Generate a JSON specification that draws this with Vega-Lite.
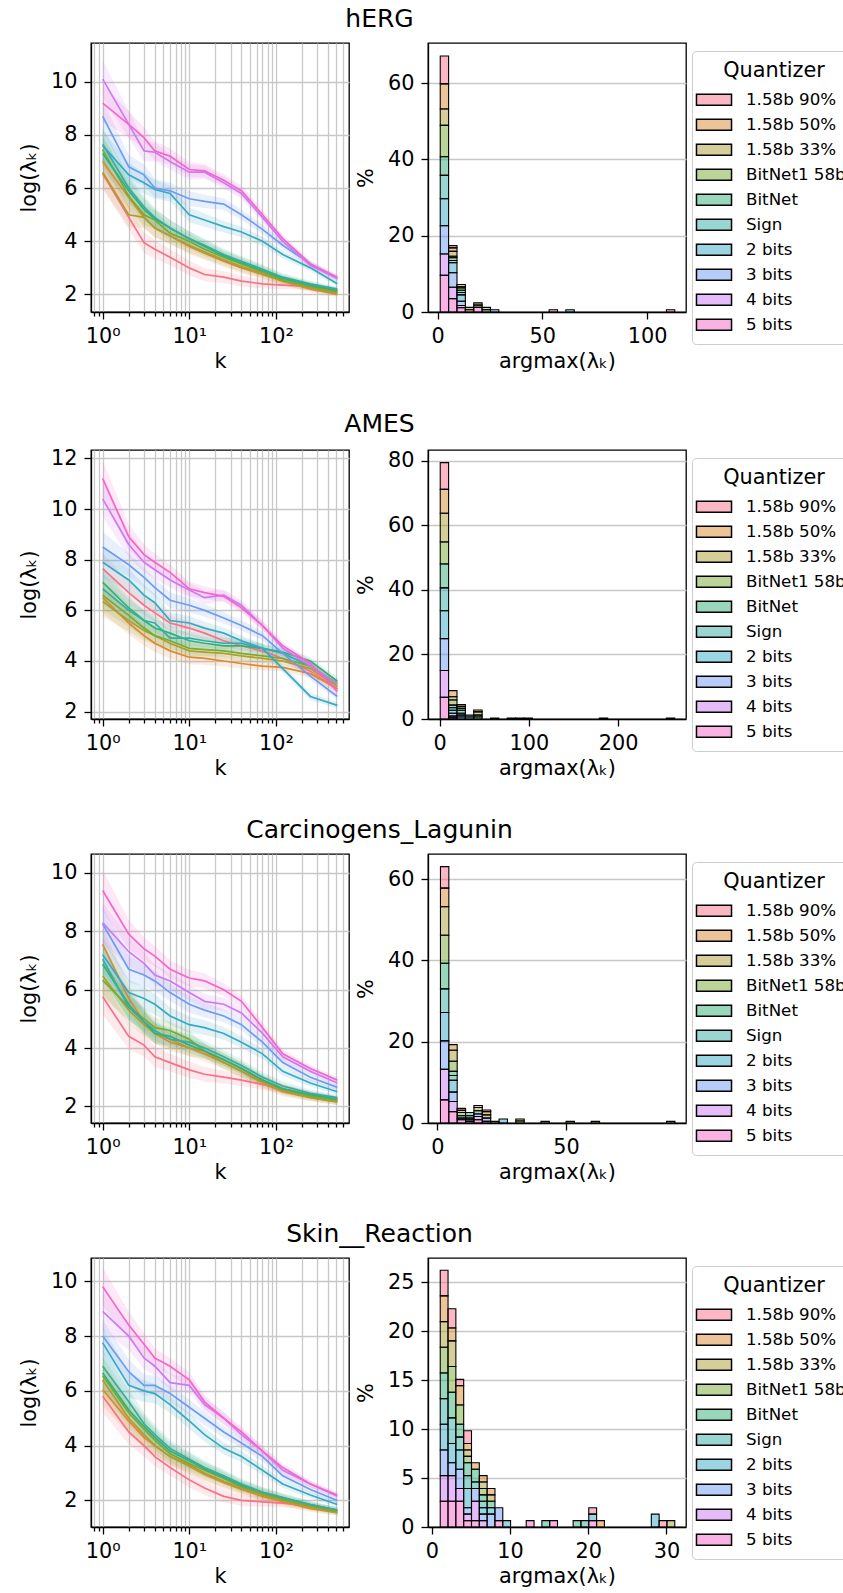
{
"$schema": "https://vega.github.io/schema/vega-lite/v6.json",
"background": "white",
"padding": {"left": 17, "top": 7, "right": 0, "bottom": 0},
"config": {
  "font": "DejaVu Sans",
  "view": {"stroke": "black", "strokeWidth": 1.3},
  "range": {"category": ["#f77189","#dc8932","#ae9d31","#77ab31","#33b07a","#36ada4","#38a9c5","#6e9bf4","#cc7af4","#f565cc"]},
  "axis": {"labelFont": "DejaVu Sans", "labelFontSize": 20.8, "labelColor": "black", "titleFont": "DejaVu Sans", "titleFontSize": 20.8, "titleFontWeight": "normal", "titleColor": "black", "tickColor": "black", "tickSize": 7, "tickWidth": 1.3, "domainColor": "black", "domainWidth": 1.3, "gridColor": "#c8c8c8", "gridWidth": 1.3, "labelPadding": 7},
  "axisX": {"titlePadding": 6},
  "axisY": {"titlePadding": 11},
  "title": {"font": "DejaVu Sans", "fontSize": 25, "fontWeight": "normal", "color": "black", "anchor": "middle", "offset": 10, "dx": -58},
  "legend": {"titleFont": "DejaVu Sans", "titleFontSize": 20.8, "titleFontWeight": "normal", "titleColor": "black", "labelFont": "DejaVu Sans", "labelFontSize": 16.7, "labelColor": "black", "symbolType": "M-1.6,-0.5H1.6V0.5H-1.6Z", "symbolSize": 480, "symbolStrokeColor": "black", "symbolStrokeWidth": 1.5, "rowPadding": 4, "labelOffset": 20, "padding": 10, "strokeColor": "#cccccc", "fillColor": "white", "cornerRadius": 4, "titleAnchor": "middle", "titlePadding": 6}
},
"datasets": {
"qorder": [{"q":"1.58b 90%","o":0},{"q":"1.58b 50%","o":1},{"q":"1.58b 33%","o":2},{"q":"BitNet1 58b","o":3},{"q":"BitNet","o":4},{"q":"Sign","o":5},{"q":"2 bits","o":6},{"q":"3 bits","o":7},{"q":"4 bits","o":8},{"q":"5 bits","o":9}],
"l_hERG": [
{"q":"1.58b 90%","k":1,"v":6.55,"e":0.6},{"q":"1.58b 90%","k":2,"v":4.9,"e":0.45},{"q":"1.58b 90%","k":3,"v":3.95,"e":0.4},{"q":"1.58b 90%","k":4,"v":3.7,"e":0.35},{"q":"1.58b 90%","k":6,"v":3.4,"e":0.3},{"q":"1.58b 90%","k":10,"v":3.0,"e":0.28},{"q":"1.58b 90%","k":15,"v":2.75,"e":0.25},{"q":"1.58b 90%","k":25,"v":2.65,"e":0.22},{"q":"1.58b 90%","k":40,"v":2.5,"e":0.2},{"q":"1.58b 90%","k":70,"v":2.4,"e":0.18},{"q":"1.58b 90%","k":120,"v":2.35,"e":0.15},{"q":"1.58b 90%","k":250,"v":2.3,"e":0.12},{"q":"1.58b 90%","k":512,"v":2.15,"e":0.1},
{"q":"1.58b 50%","k":1,"v":7.0,"e":0.6},{"q":"1.58b 50%","k":2,"v":5.65,"e":0.45},{"q":"1.58b 50%","k":3,"v":4.9,"e":0.4},{"q":"1.58b 50%","k":4,"v":4.5,"e":0.35},{"q":"1.58b 50%","k":6,"v":4.2,"e":0.3},{"q":"1.58b 50%","k":10,"v":3.8,"e":0.28},{"q":"1.58b 50%","k":15,"v":3.55,"e":0.25},{"q":"1.58b 50%","k":25,"v":3.25,"e":0.22},{"q":"1.58b 50%","k":40,"v":3.0,"e":0.2},{"q":"1.58b 50%","k":70,"v":2.75,"e":0.18},{"q":"1.58b 50%","k":120,"v":2.5,"e":0.15},{"q":"1.58b 50%","k":250,"v":2.2,"e":0.12},{"q":"1.58b 50%","k":512,"v":2.0,"e":0.1},
{"q":"1.58b 33%","k":1,"v":6.6,"e":0.6},{"q":"1.58b 33%","k":2,"v":5.0,"e":0.45},{"q":"1.58b 33%","k":3,"v":4.9,"e":0.4},{"q":"1.58b 33%","k":4,"v":4.5,"e":0.35},{"q":"1.58b 33%","k":6,"v":4.2,"e":0.3},{"q":"1.58b 33%","k":10,"v":3.85,"e":0.28},{"q":"1.58b 33%","k":15,"v":3.6,"e":0.25},{"q":"1.58b 33%","k":25,"v":3.3,"e":0.22},{"q":"1.58b 33%","k":40,"v":3.05,"e":0.2},{"q":"1.58b 33%","k":70,"v":2.8,"e":0.18},{"q":"1.58b 33%","k":120,"v":2.5,"e":0.15},{"q":"1.58b 33%","k":250,"v":2.25,"e":0.12},{"q":"1.58b 33%","k":512,"v":2.05,"e":0.1},
{"q":"BitNet1 58b","k":1,"v":7.45,"e":0.6},{"q":"BitNet1 58b","k":2,"v":5.7,"e":0.45},{"q":"BitNet1 58b","k":3,"v":5.0,"e":0.4},{"q":"BitNet1 58b","k":4,"v":4.8,"e":0.35},{"q":"BitNet1 58b","k":6,"v":4.3,"e":0.3},{"q":"BitNet1 58b","k":10,"v":4.0,"e":0.28},{"q":"BitNet1 58b","k":15,"v":3.7,"e":0.25},{"q":"BitNet1 58b","k":25,"v":3.4,"e":0.22},{"q":"BitNet1 58b","k":40,"v":3.15,"e":0.2},{"q":"BitNet1 58b","k":70,"v":2.85,"e":0.18},{"q":"BitNet1 58b","k":120,"v":2.55,"e":0.15},{"q":"BitNet1 58b","k":250,"v":2.3,"e":0.12},{"q":"BitNet1 58b","k":512,"v":2.1,"e":0.1},
{"q":"BitNet","k":1,"v":7.3,"e":0.6},{"q":"BitNet","k":2,"v":5.9,"e":0.45},{"q":"BitNet","k":3,"v":5.2,"e":0.4},{"q":"BitNet","k":4,"v":4.85,"e":0.35},{"q":"BitNet","k":6,"v":4.5,"e":0.3},{"q":"BitNet","k":10,"v":4.1,"e":0.28},{"q":"BitNet","k":15,"v":3.8,"e":0.25},{"q":"BitNet","k":25,"v":3.45,"e":0.22},{"q":"BitNet","k":40,"v":3.2,"e":0.2},{"q":"BitNet","k":70,"v":2.9,"e":0.18},{"q":"BitNet","k":120,"v":2.6,"e":0.15},{"q":"BitNet","k":250,"v":2.35,"e":0.12},{"q":"BitNet","k":512,"v":2.15,"e":0.1},
{"q":"Sign","k":1,"v":7.65,"e":0.6},{"q":"Sign","k":2,"v":6.0,"e":0.45},{"q":"Sign","k":3,"v":5.3,"e":0.4},{"q":"Sign","k":4,"v":4.9,"e":0.35},{"q":"Sign","k":6,"v":4.5,"e":0.3},{"q":"Sign","k":10,"v":4.1,"e":0.28},{"q":"Sign","k":15,"v":3.85,"e":0.25},{"q":"Sign","k":25,"v":3.5,"e":0.22},{"q":"Sign","k":40,"v":3.25,"e":0.2},{"q":"Sign","k":70,"v":2.95,"e":0.18},{"q":"Sign","k":120,"v":2.65,"e":0.15},{"q":"Sign","k":250,"v":2.4,"e":0.12},{"q":"Sign","k":512,"v":2.2,"e":0.1},
{"q":"2 bits","k":1,"v":7.6,"e":0.6},{"q":"2 bits","k":2,"v":6.5,"e":0.45},{"q":"2 bits","k":3,"v":6.2,"e":0.4},{"q":"2 bits","k":4,"v":5.95,"e":0.35},{"q":"2 bits","k":6,"v":5.8,"e":0.3},{"q":"2 bits","k":10,"v":5.0,"e":0.28},{"q":"2 bits","k":15,"v":4.8,"e":0.25},{"q":"2 bits","k":25,"v":4.55,"e":0.22},{"q":"2 bits","k":40,"v":4.35,"e":0.2},{"q":"2 bits","k":70,"v":4.0,"e":0.18},{"q":"2 bits","k":120,"v":3.5,"e":0.15},{"q":"2 bits","k":250,"v":3.0,"e":0.12},{"q":"2 bits","k":512,"v":2.4,"e":0.1},
{"q":"3 bits","k":1,"v":8.7,"e":0.6},{"q":"3 bits","k":2,"v":6.8,"e":0.45},{"q":"3 bits","k":3,"v":6.5,"e":0.4},{"q":"3 bits","k":4,"v":6.0,"e":0.35},{"q":"3 bits","k":6,"v":5.9,"e":0.3},{"q":"3 bits","k":10,"v":5.6,"e":0.28},{"q":"3 bits","k":15,"v":5.5,"e":0.25},{"q":"3 bits","k":25,"v":5.4,"e":0.22},{"q":"3 bits","k":40,"v":5.0,"e":0.2},{"q":"3 bits","k":70,"v":4.45,"e":0.18},{"q":"3 bits","k":120,"v":3.85,"e":0.15},{"q":"3 bits","k":250,"v":3.15,"e":0.12},{"q":"3 bits","k":512,"v":2.6,"e":0.1},
{"q":"4 bits","k":1,"v":10.1,"e":0.7},{"q":"4 bits","k":2,"v":8.4,"e":0.5},{"q":"4 bits","k":3,"v":7.4,"e":0.4},{"q":"4 bits","k":4,"v":7.35,"e":0.35},{"q":"4 bits","k":6,"v":7.0,"e":0.3},{"q":"4 bits","k":10,"v":6.6,"e":0.28},{"q":"4 bits","k":15,"v":6.6,"e":0.25},{"q":"4 bits","k":25,"v":6.2,"e":0.22},{"q":"4 bits","k":40,"v":5.8,"e":0.2},{"q":"4 bits","k":70,"v":4.9,"e":0.18},{"q":"4 bits","k":120,"v":4.0,"e":0.15},{"q":"4 bits","k":250,"v":3.1,"e":0.12},{"q":"4 bits","k":512,"v":2.6,"e":0.1},
{"q":"5 bits","k":1,"v":9.2,"e":0.7},{"q":"5 bits","k":2,"v":8.4,"e":0.5},{"q":"5 bits","k":3,"v":7.9,"e":0.4},{"q":"5 bits","k":4,"v":7.4,"e":0.35},{"q":"5 bits","k":6,"v":7.2,"e":0.3},{"q":"5 bits","k":10,"v":6.7,"e":0.28},{"q":"5 bits","k":15,"v":6.65,"e":0.25},{"q":"5 bits","k":25,"v":6.3,"e":0.22},{"q":"5 bits","k":40,"v":5.9,"e":0.2},{"q":"5 bits","k":70,"v":5.0,"e":0.18},{"q":"5 bits","k":120,"v":4.1,"e":0.15},{"q":"5 bits","k":250,"v":3.15,"e":0.12},{"q":"5 bits","k":512,"v":2.65,"e":0.1}
],
"l_AMES": [
{"q":"1.58b 90%","k":1,"v":7.65,"e":0.6},{"q":"1.58b 90%","k":2,"v":6.7,"e":0.45},{"q":"1.58b 90%","k":3,"v":6.2,"e":0.4},{"q":"1.58b 90%","k":4,"v":5.9,"e":0.35},{"q":"1.58b 90%","k":6,"v":5.5,"e":0.3},{"q":"1.58b 90%","k":10,"v":5.3,"e":0.28},{"q":"1.58b 90%","k":15,"v":5.1,"e":0.25},{"q":"1.58b 90%","k":25,"v":4.8,"e":0.22},{"q":"1.58b 90%","k":40,"v":4.6,"e":0.2},{"q":"1.58b 90%","k":70,"v":4.4,"e":0.18},{"q":"1.58b 90%","k":120,"v":4.1,"e":0.15},{"q":"1.58b 90%","k":250,"v":3.6,"e":0.15},{"q":"1.58b 90%","k":512,"v":2.9,"e":0.15},
{"q":"1.58b 50%","k":1,"v":6.5,"e":0.6},{"q":"1.58b 50%","k":2,"v":5.5,"e":0.45},{"q":"1.58b 50%","k":3,"v":5.0,"e":0.4},{"q":"1.58b 50%","k":4,"v":4.7,"e":0.35},{"q":"1.58b 50%","k":6,"v":4.4,"e":0.3},{"q":"1.58b 50%","k":10,"v":4.15,"e":0.28},{"q":"1.58b 50%","k":15,"v":4.1,"e":0.25},{"q":"1.58b 50%","k":25,"v":4.0,"e":0.22},{"q":"1.58b 50%","k":40,"v":3.9,"e":0.2},{"q":"1.58b 50%","k":70,"v":3.8,"e":0.18},{"q":"1.58b 50%","k":120,"v":3.75,"e":0.15},{"q":"1.58b 50%","k":250,"v":3.5,"e":0.15},{"q":"1.58b 50%","k":512,"v":2.9,"e":0.15},
{"q":"1.58b 33%","k":1,"v":6.35,"e":0.6},{"q":"1.58b 33%","k":2,"v":5.6,"e":0.45},{"q":"1.58b 33%","k":3,"v":5.2,"e":0.4},{"q":"1.58b 33%","k":4,"v":5.0,"e":0.35},{"q":"1.58b 33%","k":6,"v":4.7,"e":0.3},{"q":"1.58b 33%","k":10,"v":4.4,"e":0.28},{"q":"1.58b 33%","k":15,"v":4.35,"e":0.25},{"q":"1.58b 33%","k":25,"v":4.3,"e":0.22},{"q":"1.58b 33%","k":40,"v":4.2,"e":0.2},{"q":"1.58b 33%","k":70,"v":4.1,"e":0.18},{"q":"1.58b 33%","k":120,"v":4.0,"e":0.15},{"q":"1.58b 33%","k":250,"v":3.7,"e":0.15},{"q":"1.58b 33%","k":512,"v":3.0,"e":0.15},
{"q":"BitNet1 58b","k":1,"v":6.6,"e":0.6},{"q":"BitNet1 58b","k":2,"v":5.8,"e":0.45},{"q":"BitNet1 58b","k":3,"v":5.3,"e":0.4},{"q":"BitNet1 58b","k":4,"v":5.0,"e":0.35},{"q":"BitNet1 58b","k":6,"v":4.8,"e":0.3},{"q":"BitNet1 58b","k":10,"v":4.5,"e":0.28},{"q":"BitNet1 58b","k":15,"v":4.45,"e":0.25},{"q":"BitNet1 58b","k":25,"v":4.4,"e":0.22},{"q":"BitNet1 58b","k":40,"v":4.3,"e":0.2},{"q":"BitNet1 58b","k":70,"v":4.2,"e":0.18},{"q":"BitNet1 58b","k":120,"v":4.1,"e":0.15},{"q":"BitNet1 58b","k":250,"v":3.8,"e":0.15},{"q":"BitNet1 58b","k":512,"v":3.1,"e":0.15},
{"q":"BitNet","k":1,"v":7.1,"e":0.6},{"q":"BitNet","k":2,"v":6.1,"e":0.45},{"q":"BitNet","k":3,"v":5.6,"e":0.4},{"q":"BitNet","k":4,"v":5.3,"e":0.35},{"q":"BitNet","k":6,"v":5.1,"e":0.3},{"q":"BitNet","k":10,"v":4.8,"e":0.28},{"q":"BitNet","k":15,"v":4.7,"e":0.25},{"q":"BitNet","k":25,"v":4.6,"e":0.22},{"q":"BitNet","k":40,"v":4.6,"e":0.2},{"q":"BitNet","k":70,"v":4.5,"e":0.18},{"q":"BitNet","k":120,"v":4.35,"e":0.15},{"q":"BitNet","k":250,"v":4.0,"e":0.15},{"q":"BitNet","k":512,"v":3.2,"e":0.15},
{"q":"Sign","k":1,"v":6.85,"e":0.6},{"q":"Sign","k":2,"v":6.0,"e":0.45},{"q":"Sign","k":3,"v":5.6,"e":0.4},{"q":"Sign","k":4,"v":5.5,"e":0.35},{"q":"Sign","k":6,"v":4.9,"e":0.3},{"q":"Sign","k":10,"v":4.9,"e":0.28},{"q":"Sign","k":15,"v":4.8,"e":0.25},{"q":"Sign","k":25,"v":4.7,"e":0.22},{"q":"Sign","k":40,"v":4.7,"e":0.2},{"q":"Sign","k":70,"v":4.5,"e":0.18},{"q":"Sign","k":120,"v":4.3,"e":0.15},{"q":"Sign","k":250,"v":3.8,"e":0.15},{"q":"Sign","k":512,"v":3.1,"e":0.15},
{"q":"2 bits","k":1,"v":7.9,"e":0.6},{"q":"2 bits","k":2,"v":7.2,"e":0.45},{"q":"2 bits","k":3,"v":6.6,"e":0.4},{"q":"2 bits","k":4,"v":6.3,"e":0.35},{"q":"2 bits","k":6,"v":5.6,"e":0.3},{"q":"2 bits","k":10,"v":5.5,"e":0.28},{"q":"2 bits","k":15,"v":5.3,"e":0.25},{"q":"2 bits","k":25,"v":5.1,"e":0.22},{"q":"2 bits","k":40,"v":4.8,"e":0.2},{"q":"2 bits","k":70,"v":4.5,"e":0.18},{"q":"2 bits","k":120,"v":3.7,"e":0.15},{"q":"2 bits","k":250,"v":2.6,"e":0.15},{"q":"2 bits","k":512,"v":2.25,"e":0.12},
{"q":"3 bits","k":1,"v":8.5,"e":0.6},{"q":"3 bits","k":2,"v":7.8,"e":0.45},{"q":"3 bits","k":3,"v":7.3,"e":0.4},{"q":"3 bits","k":4,"v":6.9,"e":0.35},{"q":"3 bits","k":6,"v":6.4,"e":0.3},{"q":"3 bits","k":10,"v":6.2,"e":0.28},{"q":"3 bits","k":15,"v":6.0,"e":0.25},{"q":"3 bits","k":25,"v":5.7,"e":0.22},{"q":"3 bits","k":40,"v":5.4,"e":0.2},{"q":"3 bits","k":70,"v":5.0,"e":0.18},{"q":"3 bits","k":120,"v":4.3,"e":0.15},{"q":"3 bits","k":250,"v":3.4,"e":0.15},{"q":"3 bits","k":512,"v":2.6,"e":0.12},
{"q":"4 bits","k":1,"v":10.4,"e":0.7},{"q":"4 bits","k":2,"v":8.6,"e":0.5},{"q":"4 bits","k":3,"v":7.9,"e":0.4},{"q":"4 bits","k":4,"v":7.6,"e":0.35},{"q":"4 bits","k":6,"v":7.2,"e":0.3},{"q":"4 bits","k":10,"v":6.8,"e":0.28},{"q":"4 bits","k":15,"v":6.5,"e":0.25},{"q":"4 bits","k":25,"v":6.6,"e":0.22},{"q":"4 bits","k":40,"v":6.2,"e":0.2},{"q":"4 bits","k":70,"v":5.4,"e":0.18},{"q":"4 bits","k":120,"v":4.5,"e":0.15},{"q":"4 bits","k":250,"v":3.8,"e":0.15},{"q":"4 bits","k":512,"v":3.1,"e":0.15},
{"q":"5 bits","k":1,"v":11.2,"e":0.7},{"q":"5 bits","k":2,"v":8.9,"e":0.5},{"q":"5 bits","k":3,"v":8.2,"e":0.4},{"q":"5 bits","k":4,"v":7.9,"e":0.35},{"q":"5 bits","k":6,"v":7.5,"e":0.3},{"q":"5 bits","k":10,"v":6.85,"e":0.28},{"q":"5 bits","k":15,"v":6.7,"e":0.25},{"q":"5 bits","k":25,"v":6.55,"e":0.22},{"q":"5 bits","k":40,"v":6.1,"e":0.2},{"q":"5 bits","k":70,"v":5.4,"e":0.18},{"q":"5 bits","k":120,"v":4.6,"e":0.15},{"q":"5 bits","k":250,"v":3.9,"e":0.15},{"q":"5 bits","k":512,"v":2.8,"e":0.15}
],
"l_Carc": [
{"q":"1.58b 90%","k":1,"v":5.76,"e":0.6},{"q":"1.58b 90%","k":2,"v":4.4,"e":0.45},{"q":"1.58b 90%","k":3,"v":4.1,"e":0.4},{"q":"1.58b 90%","k":4,"v":3.7,"e":0.35},{"q":"1.58b 90%","k":6,"v":3.5,"e":0.3},{"q":"1.58b 90%","k":10,"v":3.25,"e":0.28},{"q":"1.58b 90%","k":15,"v":3.1,"e":0.25},{"q":"1.58b 90%","k":25,"v":3.0,"e":0.22},{"q":"1.58b 90%","k":40,"v":2.9,"e":0.2},{"q":"1.58b 90%","k":70,"v":2.75,"e":0.18},{"q":"1.58b 90%","k":120,"v":2.6,"e":0.15},{"q":"1.58b 90%","k":250,"v":2.4,"e":0.12},{"q":"1.58b 90%","k":512,"v":2.25,"e":0.1},
{"q":"1.58b 50%","k":1,"v":7.55,"e":0.6},{"q":"1.58b 50%","k":2,"v":5.7,"e":0.45},{"q":"1.58b 50%","k":3,"v":4.9,"e":0.4},{"q":"1.58b 50%","k":4,"v":4.5,"e":0.35},{"q":"1.58b 50%","k":6,"v":4.2,"e":0.3},{"q":"1.58b 50%","k":10,"v":4.0,"e":0.28},{"q":"1.58b 50%","k":15,"v":3.8,"e":0.25},{"q":"1.58b 50%","k":25,"v":3.5,"e":0.22},{"q":"1.58b 50%","k":40,"v":3.2,"e":0.2},{"q":"1.58b 50%","k":70,"v":2.8,"e":0.18},{"q":"1.58b 50%","k":120,"v":2.5,"e":0.15},{"q":"1.58b 50%","k":250,"v":2.3,"e":0.12},{"q":"1.58b 50%","k":512,"v":2.15,"e":0.1},
{"q":"1.58b 33%","k":1,"v":6.47,"e":0.6},{"q":"1.58b 33%","k":2,"v":5.3,"e":0.45},{"q":"1.58b 33%","k":3,"v":4.8,"e":0.4},{"q":"1.58b 33%","k":4,"v":4.5,"e":0.35},{"q":"1.58b 33%","k":6,"v":4.3,"e":0.3},{"q":"1.58b 33%","k":10,"v":4.0,"e":0.28},{"q":"1.58b 33%","k":15,"v":3.9,"e":0.25},{"q":"1.58b 33%","k":25,"v":3.5,"e":0.22},{"q":"1.58b 33%","k":40,"v":3.2,"e":0.2},{"q":"1.58b 33%","k":70,"v":2.85,"e":0.18},{"q":"1.58b 33%","k":120,"v":2.55,"e":0.15},{"q":"1.58b 33%","k":250,"v":2.3,"e":0.12},{"q":"1.58b 33%","k":512,"v":2.15,"e":0.1},
{"q":"BitNet1 58b","k":1,"v":6.33,"e":0.6},{"q":"BitNet1 58b","k":2,"v":5.4,"e":0.45},{"q":"BitNet1 58b","k":3,"v":5.0,"e":0.4},{"q":"BitNet1 58b","k":4,"v":4.7,"e":0.35},{"q":"BitNet1 58b","k":6,"v":4.6,"e":0.3},{"q":"BitNet1 58b","k":10,"v":4.3,"e":0.28},{"q":"BitNet1 58b","k":15,"v":3.9,"e":0.25},{"q":"BitNet1 58b","k":25,"v":3.6,"e":0.22},{"q":"BitNet1 58b","k":40,"v":3.3,"e":0.2},{"q":"BitNet1 58b","k":70,"v":2.9,"e":0.18},{"q":"BitNet1 58b","k":120,"v":2.6,"e":0.15},{"q":"BitNet1 58b","k":250,"v":2.35,"e":0.12},{"q":"BitNet1 58b","k":512,"v":2.2,"e":0.1},
{"q":"BitNet","k":1,"v":6.87,"e":0.6},{"q":"BitNet","k":2,"v":5.5,"e":0.45},{"q":"BitNet","k":3,"v":4.9,"e":0.4},{"q":"BitNet","k":4,"v":4.5,"e":0.35},{"q":"BitNet","k":6,"v":4.4,"e":0.3},{"q":"BitNet","k":10,"v":4.1,"e":0.28},{"q":"BitNet","k":15,"v":3.9,"e":0.25},{"q":"BitNet","k":25,"v":3.6,"e":0.22},{"q":"BitNet","k":40,"v":3.3,"e":0.2},{"q":"BitNet","k":70,"v":2.9,"e":0.18},{"q":"BitNet","k":120,"v":2.6,"e":0.15},{"q":"BitNet","k":250,"v":2.4,"e":0.12},{"q":"BitNet","k":512,"v":2.25,"e":0.1},
{"q":"Sign","k":1,"v":7.05,"e":0.6},{"q":"Sign","k":2,"v":5.4,"e":0.45},{"q":"Sign","k":3,"v":4.9,"e":0.4},{"q":"Sign","k":4,"v":4.6,"e":0.35},{"q":"Sign","k":6,"v":4.3,"e":0.3},{"q":"Sign","k":10,"v":4.2,"e":0.28},{"q":"Sign","k":15,"v":4.0,"e":0.25},{"q":"Sign","k":25,"v":3.7,"e":0.22},{"q":"Sign","k":40,"v":3.4,"e":0.2},{"q":"Sign","k":70,"v":3.0,"e":0.18},{"q":"Sign","k":120,"v":2.7,"e":0.15},{"q":"Sign","k":250,"v":2.45,"e":0.12},{"q":"Sign","k":512,"v":2.3,"e":0.1},
{"q":"2 bits","k":1,"v":7.2,"e":0.6},{"q":"2 bits","k":2,"v":5.9,"e":0.45},{"q":"2 bits","k":3,"v":5.7,"e":0.4},{"q":"2 bits","k":4,"v":5.5,"e":0.35},{"q":"2 bits","k":6,"v":5.1,"e":0.3},{"q":"2 bits","k":10,"v":4.8,"e":0.28},{"q":"2 bits","k":15,"v":4.7,"e":0.25},{"q":"2 bits","k":25,"v":4.5,"e":0.22},{"q":"2 bits","k":40,"v":4.2,"e":0.2},{"q":"2 bits","k":70,"v":3.8,"e":0.18},{"q":"2 bits","k":120,"v":3.2,"e":0.15},{"q":"2 bits","k":250,"v":2.8,"e":0.12},{"q":"2 bits","k":512,"v":2.5,"e":0.1},
{"q":"3 bits","k":1,"v":8.25,"e":0.6},{"q":"3 bits","k":2,"v":6.7,"e":0.45},{"q":"3 bits","k":3,"v":6.5,"e":0.4},{"q":"3 bits","k":4,"v":6.3,"e":0.35},{"q":"3 bits","k":6,"v":5.9,"e":0.3},{"q":"3 bits","k":10,"v":5.5,"e":0.28},{"q":"3 bits","k":15,"v":5.3,"e":0.25},{"q":"3 bits","k":25,"v":5.1,"e":0.22},{"q":"3 bits","k":40,"v":4.8,"e":0.2},{"q":"3 bits","k":70,"v":4.2,"e":0.18},{"q":"3 bits","k":120,"v":3.5,"e":0.15},{"q":"3 bits","k":250,"v":3.0,"e":0.12},{"q":"3 bits","k":512,"v":2.65,"e":0.1},
{"q":"4 bits","k":1,"v":8.3,"e":0.7},{"q":"4 bits","k":2,"v":7.3,"e":0.5},{"q":"4 bits","k":3,"v":6.9,"e":0.4},{"q":"4 bits","k":4,"v":6.5,"e":0.35},{"q":"4 bits","k":6,"v":6.3,"e":0.3},{"q":"4 bits","k":10,"v":5.9,"e":0.28},{"q":"4 bits","k":15,"v":5.6,"e":0.25},{"q":"4 bits","k":25,"v":5.5,"e":0.22},{"q":"4 bits","k":40,"v":5.2,"e":0.2},{"q":"4 bits","k":70,"v":4.5,"e":0.18},{"q":"4 bits","k":120,"v":3.7,"e":0.15},{"q":"4 bits","k":250,"v":3.2,"e":0.12},{"q":"4 bits","k":512,"v":2.8,"e":0.1},
{"q":"5 bits","k":1,"v":9.4,"e":0.7},{"q":"5 bits","k":2,"v":7.9,"e":0.5},{"q":"5 bits","k":3,"v":7.4,"e":0.4},{"q":"5 bits","k":4,"v":7.15,"e":0.35},{"q":"5 bits","k":6,"v":6.7,"e":0.3},{"q":"5 bits","k":10,"v":6.4,"e":0.28},{"q":"5 bits","k":15,"v":6.3,"e":0.25},{"q":"5 bits","k":25,"v":6.0,"e":0.22},{"q":"5 bits","k":40,"v":5.6,"e":0.2},{"q":"5 bits","k":70,"v":4.7,"e":0.18},{"q":"5 bits","k":120,"v":3.8,"e":0.15},{"q":"5 bits","k":250,"v":3.3,"e":0.12},{"q":"5 bits","k":512,"v":2.9,"e":0.1}
],
"l_Skin": [
{"q":"1.58b 90%","k":1,"v":5.8,"e":0.6},{"q":"1.58b 90%","k":2,"v":4.5,"e":0.45},{"q":"1.58b 90%","k":3,"v":4.0,"e":0.4},{"q":"1.58b 90%","k":4,"v":3.6,"e":0.35},{"q":"1.58b 90%","k":6,"v":3.2,"e":0.3},{"q":"1.58b 90%","k":10,"v":2.75,"e":0.28},{"q":"1.58b 90%","k":15,"v":2.45,"e":0.25},{"q":"1.58b 90%","k":25,"v":2.15,"e":0.22},{"q":"1.58b 90%","k":40,"v":2.0,"e":0.2},{"q":"1.58b 90%","k":70,"v":1.95,"e":0.18},{"q":"1.58b 90%","k":120,"v":1.9,"e":0.15},{"q":"1.58b 90%","k":250,"v":1.8,"e":0.12},{"q":"1.58b 90%","k":512,"v":1.65,"e":0.1},
{"q":"1.58b 50%","k":1,"v":6.05,"e":0.6},{"q":"1.58b 50%","k":2,"v":4.9,"e":0.45},{"q":"1.58b 50%","k":3,"v":4.3,"e":0.4},{"q":"1.58b 50%","k":4,"v":4.0,"e":0.35},{"q":"1.58b 50%","k":6,"v":3.6,"e":0.3},{"q":"1.58b 50%","k":10,"v":3.25,"e":0.28},{"q":"1.58b 50%","k":15,"v":2.95,"e":0.25},{"q":"1.58b 50%","k":25,"v":2.65,"e":0.22},{"q":"1.58b 50%","k":40,"v":2.4,"e":0.2},{"q":"1.58b 50%","k":70,"v":2.15,"e":0.18},{"q":"1.58b 50%","k":120,"v":1.95,"e":0.15},{"q":"1.58b 50%","k":250,"v":1.7,"e":0.12},{"q":"1.58b 50%","k":512,"v":1.55,"e":0.1},
{"q":"1.58b 33%","k":1,"v":6.4,"e":0.6},{"q":"1.58b 33%","k":2,"v":5.0,"e":0.45},{"q":"1.58b 33%","k":3,"v":4.4,"e":0.4},{"q":"1.58b 33%","k":4,"v":4.0,"e":0.35},{"q":"1.58b 33%","k":6,"v":3.6,"e":0.3},{"q":"1.58b 33%","k":10,"v":3.3,"e":0.28},{"q":"1.58b 33%","k":15,"v":3.0,"e":0.25},{"q":"1.58b 33%","k":25,"v":2.7,"e":0.22},{"q":"1.58b 33%","k":40,"v":2.45,"e":0.2},{"q":"1.58b 33%","k":70,"v":2.2,"e":0.18},{"q":"1.58b 33%","k":120,"v":2.0,"e":0.15},{"q":"1.58b 33%","k":250,"v":1.75,"e":0.12},{"q":"1.58b 33%","k":512,"v":1.55,"e":0.1},
{"q":"BitNet1 58b","k":1,"v":6.55,"e":0.6},{"q":"BitNet1 58b","k":2,"v":5.2,"e":0.45},{"q":"BitNet1 58b","k":3,"v":4.6,"e":0.4},{"q":"BitNet1 58b","k":4,"v":4.2,"e":0.35},{"q":"BitNet1 58b","k":6,"v":3.7,"e":0.3},{"q":"BitNet1 58b","k":10,"v":3.35,"e":0.28},{"q":"BitNet1 58b","k":15,"v":3.1,"e":0.25},{"q":"BitNet1 58b","k":25,"v":2.8,"e":0.22},{"q":"BitNet1 58b","k":40,"v":2.5,"e":0.2},{"q":"BitNet1 58b","k":70,"v":2.25,"e":0.18},{"q":"BitNet1 58b","k":120,"v":2.05,"e":0.15},{"q":"BitNet1 58b","k":250,"v":1.8,"e":0.12},{"q":"BitNet1 58b","k":512,"v":1.6,"e":0.1},
{"q":"BitNet","k":1,"v":6.65,"e":0.6},{"q":"BitNet","k":2,"v":5.3,"e":0.45},{"q":"BitNet","k":3,"v":4.7,"e":0.4},{"q":"BitNet","k":4,"v":4.3,"e":0.35},{"q":"BitNet","k":6,"v":3.8,"e":0.3},{"q":"BitNet","k":10,"v":3.45,"e":0.28},{"q":"BitNet","k":15,"v":3.15,"e":0.25},{"q":"BitNet","k":25,"v":2.85,"e":0.22},{"q":"BitNet","k":40,"v":2.55,"e":0.2},{"q":"BitNet","k":70,"v":2.3,"e":0.18},{"q":"BitNet","k":120,"v":2.1,"e":0.15},{"q":"BitNet","k":250,"v":1.85,"e":0.12},{"q":"BitNet","k":512,"v":1.65,"e":0.1},
{"q":"Sign","k":1,"v":6.9,"e":0.6},{"q":"Sign","k":2,"v":5.6,"e":0.45},{"q":"Sign","k":3,"v":4.8,"e":0.4},{"q":"Sign","k":4,"v":4.4,"e":0.35},{"q":"Sign","k":6,"v":3.9,"e":0.3},{"q":"Sign","k":10,"v":3.5,"e":0.28},{"q":"Sign","k":15,"v":3.2,"e":0.25},{"q":"Sign","k":25,"v":2.9,"e":0.22},{"q":"Sign","k":40,"v":2.6,"e":0.2},{"q":"Sign","k":70,"v":2.3,"e":0.18},{"q":"Sign","k":120,"v":2.1,"e":0.15},{"q":"Sign","k":250,"v":1.85,"e":0.12},{"q":"Sign","k":512,"v":1.65,"e":0.1},
{"q":"2 bits","k":1,"v":7.75,"e":0.6},{"q":"2 bits","k":2,"v":6.2,"e":0.45},{"q":"2 bits","k":3,"v":6.0,"e":0.4},{"q":"2 bits","k":4,"v":5.9,"e":0.35},{"q":"2 bits","k":6,"v":5.5,"e":0.3},{"q":"2 bits","k":10,"v":4.9,"e":0.28},{"q":"2 bits","k":15,"v":4.4,"e":0.25},{"q":"2 bits","k":25,"v":3.9,"e":0.22},{"q":"2 bits","k":40,"v":3.6,"e":0.2},{"q":"2 bits","k":70,"v":3.1,"e":0.18},{"q":"2 bits","k":120,"v":2.6,"e":0.15},{"q":"2 bits","k":250,"v":2.2,"e":0.12},{"q":"2 bits","k":512,"v":1.85,"e":0.1},
{"q":"3 bits","k":1,"v":8.0,"e":0.6},{"q":"3 bits","k":2,"v":6.7,"e":0.45},{"q":"3 bits","k":3,"v":6.2,"e":0.4},{"q":"3 bits","k":4,"v":6.2,"e":0.35},{"q":"3 bits","k":6,"v":5.9,"e":0.3},{"q":"3 bits","k":10,"v":5.4,"e":0.28},{"q":"3 bits","k":15,"v":5.0,"e":0.25},{"q":"3 bits","k":25,"v":4.5,"e":0.22},{"q":"3 bits","k":40,"v":4.1,"e":0.2},{"q":"3 bits","k":70,"v":3.6,"e":0.18},{"q":"3 bits","k":120,"v":2.9,"e":0.15},{"q":"3 bits","k":250,"v":2.4,"e":0.12},{"q":"3 bits","k":512,"v":2.0,"e":0.1},
{"q":"4 bits","k":1,"v":8.9,"e":0.7},{"q":"4 bits","k":2,"v":8.0,"e":0.5},{"q":"4 bits","k":3,"v":7.2,"e":0.4},{"q":"4 bits","k":4,"v":6.9,"e":0.35},{"q":"4 bits","k":6,"v":6.3,"e":0.3},{"q":"4 bits","k":10,"v":6.2,"e":0.28},{"q":"4 bits","k":15,"v":5.5,"e":0.25},{"q":"4 bits","k":25,"v":5.0,"e":0.22},{"q":"4 bits","k":40,"v":4.4,"e":0.2},{"q":"4 bits","k":70,"v":3.8,"e":0.18},{"q":"4 bits","k":120,"v":3.1,"e":0.15},{"q":"4 bits","k":250,"v":2.6,"e":0.12},{"q":"4 bits","k":512,"v":2.15,"e":0.1},
{"q":"5 bits","k":1,"v":9.8,"e":0.7},{"q":"5 bits","k":2,"v":8.4,"e":0.5},{"q":"5 bits","k":3,"v":7.7,"e":0.4},{"q":"5 bits","k":4,"v":7.2,"e":0.35},{"q":"5 bits","k":6,"v":6.9,"e":0.3},{"q":"5 bits","k":10,"v":6.4,"e":0.28},{"q":"5 bits","k":15,"v":5.6,"e":0.25},{"q":"5 bits","k":25,"v":5.0,"e":0.22},{"q":"5 bits","k":40,"v":4.5,"e":0.2},{"q":"5 bits","k":70,"v":3.8,"e":0.18},{"q":"5 bits","k":120,"v":3.2,"e":0.15},{"q":"5 bits","k":250,"v":2.6,"e":0.12},{"q":"5 bits","k":512,"v":2.2,"e":0.1}
],
"h_hERG": [
{"q":"1.58b 90%","b0":1,"b1":5,"p":7.3},{"q":"1.58b 50%","b0":1,"b1":5,"p":6.6},{"q":"1.58b 33%","b0":1,"b1":5,"p":4.3},{"q":"BitNet1 58b","b0":1,"b1":5,"p":8.2},{"q":"BitNet","b0":1,"b1":5,"p":4.9},{"q":"Sign","b0":1,"b1":5,"p":6.1},{"q":"2 bits","b0":1,"b1":5,"p":7.1},{"q":"3 bits","b0":1,"b1":5,"p":7.4},{"q":"4 bits","b0":1,"b1":5,"p":5.6},{"q":"5 bits","b0":1,"b1":5,"p":9.6},
{"q":"1.58b 90%","b0":5,"b1":9,"p":0.6},{"q":"1.58b 50%","b0":5,"b1":9,"p":0.9},{"q":"1.58b 33%","b0":5,"b1":9,"p":1.3},{"q":"BitNet1 58b","b0":5,"b1":9,"p":0.4},{"q":"BitNet","b0":5,"b1":9,"p":0.7},{"q":"Sign","b0":5,"b1":9,"p":0.6},{"q":"2 bits","b0":5,"b1":9,"p":2.6},{"q":"3 bits","b0":5,"b1":9,"p":3.8},{"q":"4 bits","b0":5,"b1":9,"p":3.0},{"q":"5 bits","b0":5,"b1":9,"p":3.5},
{"q":"1.58b 50%","b0":9,"b1":13,"p":0.6},{"q":"1.58b 33%","b0":9,"b1":13,"p":0.3},{"q":"BitNet1 58b","b0":9,"b1":13,"p":0.6},{"q":"BitNet","b0":9,"b1":13,"p":0.6},{"q":"Sign","b0":9,"b1":13,"p":0.6},{"q":"2 bits","b0":9,"b1":13,"p":1.7},{"q":"3 bits","b0":9,"b1":13,"p":1.1},{"q":"4 bits","b0":9,"b1":13,"p":0.6},{"q":"5 bits","b0":9,"b1":13,"p":1.1},
{"q":"1.58b 90%","b0":13,"b1":17,"p":0.6},{"q":"1.58b 33%","b0":13,"b1":17,"p":0.6},
{"q":"1.58b 33%","b0":17,"b1":21,"p":0.6},{"q":"BitNet1 58b","b0":17,"b1":21,"p":0.6},{"q":"5 bits","b0":17,"b1":21,"p":1.2},
{"q":"1.58b 33%","b0":21,"b1":25,"p":0.6},{"q":"BitNet","b0":21,"b1":25,"p":0.6},
{"q":"3 bits","b0":25,"b1":29,"p":0.6},
{"q":"1.58b 90%","b0":53,"b1":57,"p":0.6},
{"q":"2 bits","b0":61,"b1":65,"p":0.6},
{"q":"1.58b 90%","b0":109,"b1":113,"p":0.6}
],
"h_AMES": [
{"q":"1.58b 90%","b0":0,"b1":9.39,"p":8.3},{"q":"1.58b 50%","b0":0,"b1":9.39,"p":7.4},{"q":"1.58b 33%","b0":0,"b1":9.39,"p":8.9},{"q":"BitNet1 58b","b0":0,"b1":9.39,"p":6.8},{"q":"BitNet","b0":0,"b1":9.39,"p":7.4},{"q":"Sign","b0":0,"b1":9.39,"p":7.1},{"q":"2 bits","b0":0,"b1":9.39,"p":8.6},{"q":"3 bits","b0":0,"b1":9.39,"p":9.9},{"q":"4 bits","b0":0,"b1":9.39,"p":8.3},{"q":"5 bits","b0":0,"b1":9.39,"p":6.7},
{"q":"1.58b 50%","b0":9.39,"b1":18.79,"p":1.9},{"q":"1.58b 33%","b0":9.39,"b1":18.79,"p":1.0},{"q":"BitNet1 58b","b0":9.39,"b1":18.79,"p":1.6},{"q":"BitNet","b0":9.39,"b1":18.79,"p":0.8},{"q":"Sign","b0":9.39,"b1":18.79,"p":0.8},{"q":"2 bits","b0":9.39,"b1":18.79,"p":0.9},{"q":"3 bits","b0":9.39,"b1":18.79,"p":0.9},{"q":"4 bits","b0":9.39,"b1":18.79,"p":0.5},{"q":"5 bits","b0":9.39,"b1":18.79,"p":0.4},
{"q":"1.58b 50%","b0":18.79,"b1":28.18,"p":0.6},{"q":"1.58b 33%","b0":18.79,"b1":28.18,"p":0.6},{"q":"BitNet1 58b","b0":18.79,"b1":28.18,"p":0.6},{"q":"BitNet","b0":18.79,"b1":28.18,"p":0.9},{"q":"Sign","b0":18.79,"b1":28.18,"p":0.6},{"q":"2 bits","b0":18.79,"b1":28.18,"p":0.6},{"q":"3 bits","b0":18.79,"b1":28.18,"p":0.6},
{"q":"Sign","b0":28.18,"b1":37.57,"p":0.6},{"q":"2 bits","b0":28.18,"b1":37.57,"p":0.6},
{"q":"1.58b 50%","b0":37.57,"b1":46.96,"p":0.6},{"q":"1.58b 33%","b0":37.57,"b1":46.96,"p":1.0},{"q":"BitNet1 58b","b0":37.57,"b1":46.96,"p":0.6},{"q":"BitNet","b0":37.57,"b1":46.96,"p":0.6},
{"q":"BitNet","b0":56.36,"b1":65.75,"p":0.3},
{"q":"1.58b 33%","b0":75.14,"b1":84.53,"p":0.3},
{"q":"1.58b 50%","b0":84.53,"b1":93.93,"p":0.3},
{"q":"BitNet1 58b","b0":93.93,"b1":103.32,"p":0.3},
{"q":"1.58b 90%","b0":178.41,"b1":187.8,"p":0.3},
{"q":"BitNet","b0":253.53,"b1":262.92,"p":0.3}
],
"h_Carc": [
{"q":"1.58b 90%","b0":1,"b1":4.26,"p":5.3},{"q":"1.58b 50%","b0":1,"b1":4.26,"p":4.6},{"q":"1.58b 33%","b0":1,"b1":4.26,"p":7.0},{"q":"BitNet1 58b","b0":1,"b1":4.26,"p":6.9},{"q":"BitNet","b0":1,"b1":4.26,"p":6.3},{"q":"Sign","b0":1,"b1":4.26,"p":5.8},{"q":"2 bits","b0":1,"b1":4.26,"p":7.0},{"q":"3 bits","b0":1,"b1":4.26,"p":7.0},{"q":"4 bits","b0":1,"b1":4.26,"p":7.5},{"q":"5 bits","b0":1,"b1":4.26,"p":5.7},
{"q":"1.58b 50%","b0":4.26,"b1":7.51,"p":1.4},{"q":"1.58b 33%","b0":4.26,"b1":7.51,"p":2.7},{"q":"BitNet1 58b","b0":4.26,"b1":7.51,"p":2.5},{"q":"BitNet","b0":4.26,"b1":7.51,"p":1.0},{"q":"Sign","b0":4.26,"b1":7.51,"p":1.2},{"q":"2 bits","b0":4.26,"b1":7.51,"p":2.9},{"q":"3 bits","b0":4.26,"b1":7.51,"p":2.3},{"q":"4 bits","b0":4.26,"b1":7.51,"p":2.5},{"q":"5 bits","b0":4.26,"b1":7.51,"p":2.8},
{"q":"1.58b 90%","b0":7.51,"b1":10.77,"p":0.5},{"q":"1.58b 50%","b0":7.51,"b1":10.77,"p":0.5},{"q":"BitNet1 58b","b0":7.51,"b1":10.77,"p":0.8},{"q":"BitNet","b0":7.51,"b1":10.77,"p":0.6},{"q":"2 bits","b0":7.51,"b1":10.77,"p":0.4},{"q":"5 bits","b0":7.51,"b1":10.77,"p":0.8},
{"q":"BitNet","b0":10.77,"b1":14.03,"p":0.8},{"q":"Sign","b0":10.77,"b1":14.03,"p":0.6},{"q":"2 bits","b0":10.77,"b1":14.03,"p":0.4},{"q":"4 bits","b0":10.77,"b1":14.03,"p":0.4},{"q":"5 bits","b0":10.77,"b1":14.03,"p":0.4},
{"q":"1.58b 90%","b0":14.03,"b1":17.28,"p":0.5},{"q":"1.58b 33%","b0":14.03,"b1":17.28,"p":0.8},{"q":"BitNet","b0":14.03,"b1":17.28,"p":0.8},{"q":"3 bits","b0":14.03,"b1":17.28,"p":0.6},{"q":"4 bits","b0":14.03,"b1":17.28,"p":0.8},{"q":"5 bits","b0":14.03,"b1":17.28,"p":0.8},
{"q":"1.58b 90%","b0":17.28,"b1":20.54,"p":0.4},{"q":"1.58b 50%","b0":17.28,"b1":20.54,"p":0.8},{"q":"1.58b 33%","b0":17.28,"b1":20.54,"p":0.8},{"q":"3 bits","b0":17.28,"b1":20.54,"p":0.8},{"q":"5 bits","b0":17.28,"b1":20.54,"p":0.4},
{"q":"1.58b 33%","b0":20.54,"b1":23.8,"p":0.4},
{"q":"2 bits","b0":23.8,"b1":27.06,"p":1.0},
{"q":"1.58b 33%","b0":30.31,"b1":33.57,"p":0.5},{"q":"BitNet1 58b","b0":30.31,"b1":33.57,"p":0.5},
{"q":"1.58b 50%","b0":40.08,"b1":43.34,"p":0.4},
{"q":"1.58b 33%","b0":49.86,"b1":53.11,"p":0.4},
{"q":"1.58b 33%","b0":59.63,"b1":62.89,"p":0.4},
{"q":"1.58b 90%","b0":88.94,"b1":92.2,"p":0.4}
],
"h_Skin": [
{"q":"1.58b 90%","b0":1,"b1":2,"p":2.62},{"q":"1.58b 50%","b0":1,"b1":2,"p":2.62},{"q":"1.58b 33%","b0":1,"b1":2,"p":2.62},{"q":"BitNet1 58b","b0":1,"b1":2,"p":2.62},{"q":"BitNet","b0":1,"b1":2,"p":2.62},{"q":"Sign","b0":1,"b1":2,"p":2.62},{"q":"2 bits","b0":1,"b1":2,"p":2.62},{"q":"3 bits","b0":1,"b1":2,"p":2.62},{"q":"4 bits","b0":1,"b1":2,"p":2.62},{"q":"5 bits","b0":1,"b1":2,"p":2.62},
{"q":"1.58b 90%","b0":2,"b1":3,"p":1.965},{"q":"1.58b 50%","b0":2,"b1":3,"p":1.31},{"q":"1.58b 33%","b0":2,"b1":3,"p":2.62},{"q":"BitNet1 58b","b0":2,"b1":3,"p":2.62},{"q":"BitNet","b0":2,"b1":3,"p":2.62},{"q":"Sign","b0":2,"b1":3,"p":2.62},{"q":"2 bits","b0":2,"b1":3,"p":1.965},{"q":"3 bits","b0":2,"b1":3,"p":1.31},{"q":"4 bits","b0":2,"b1":3,"p":2.62},{"q":"5 bits","b0":2,"b1":3,"p":2.62},
{"q":"1.58b 90%","b0":3,"b1":4,"p":0.655},{"q":"1.58b 50%","b0":3,"b1":4,"p":1.965},{"q":"BitNet1 58b","b0":3,"b1":4,"p":1.965},{"q":"BitNet","b0":3,"b1":4,"p":1.31},{"q":"Sign","b0":3,"b1":4,"p":1.31},{"q":"2 bits","b0":3,"b1":4,"p":1.965},{"q":"3 bits","b0":3,"b1":4,"p":1.965},{"q":"4 bits","b0":3,"b1":4,"p":1.31},{"q":"5 bits","b0":3,"b1":4,"p":2.62},
{"q":"1.58b 90%","b0":4,"b1":5,"p":1.31},{"q":"1.58b 50%","b0":4,"b1":5,"p":0.655},{"q":"1.58b 33%","b0":4,"b1":5,"p":0.655},{"q":"BitNet1 58b","b0":4,"b1":5,"p":0.655},{"q":"BitNet","b0":4,"b1":5,"p":1.31},{"q":"Sign","b0":4,"b1":5,"p":1.31},{"q":"2 bits","b0":4,"b1":5,"p":1.965},{"q":"3 bits","b0":4,"b1":5,"p":0.655},{"q":"4 bits","b0":4,"b1":5,"p":0.655},{"q":"5 bits","b0":4,"b1":5,"p":0.655},
{"q":"1.58b 50%","b0":5,"b1":6,"p":0.655},{"q":"BitNet","b0":5,"b1":6,"p":1.31},{"q":"Sign","b0":5,"b1":6,"p":0.655},{"q":"3 bits","b0":5,"b1":6,"p":1.31},{"q":"4 bits","b0":5,"b1":6,"p":1.965},{"q":"5 bits","b0":5,"b1":6,"p":0.655},
{"q":"1.58b 50%","b0":6,"b1":7,"p":0.655},{"q":"1.58b 33%","b0":6,"b1":7,"p":0.655},{"q":"BitNet1 58b","b0":6,"b1":7,"p":0.655},{"q":"BitNet","b0":6,"b1":7,"p":0.655},{"q":"Sign","b0":6,"b1":7,"p":0.655},{"q":"2 bits","b0":6,"b1":7,"p":0.655},{"q":"3 bits","b0":6,"b1":7,"p":0.655},{"q":"4 bits","b0":6,"b1":7,"p":0.655},
{"q":"1.58b 50%","b0":7,"b1":8,"p":0.655},{"q":"1.58b 33%","b0":7,"b1":8,"p":0.655},{"q":"BitNet","b0":7,"b1":8,"p":0.655},{"q":"2 bits","b0":7,"b1":8,"p":0.655},{"q":"3 bits","b0":7,"b1":8,"p":1.31},
{"q":"3 bits","b0":8,"b1":9,"p":1.31},{"q":"5 bits","b0":8,"b1":9,"p":0.655},
{"q":"2 bits","b0":9,"b1":10,"p":0.655},
{"q":"5 bits","b0":12,"b1":13,"p":0.655},
{"q":"BitNet","b0":14,"b1":15,"p":0.655},
{"q":"5 bits","b0":15,"b1":16,"p":0.655},
{"q":"BitNet","b0":18,"b1":19,"p":0.655},
{"q":"Sign","b0":19,"b1":20,"p":0.655},
{"q":"1.58b 90%","b0":20,"b1":21,"p":0.655},{"q":"2 bits","b0":20,"b1":21,"p":0.655},{"q":"5 bits","b0":20,"b1":21,"p":0.655},
{"q":"1.58b 50%","b0":21,"b1":22,"p":0.655},
{"q":"2 bits","b0":28,"b1":29,"p":1.31},
{"q":"1.58b 90%","b0":29,"b1":30,"p":0.655},
{"q":"1.58b 33%","b0":30,"b1":31,"p":0.655}
]
},
"spacing": 38,
"resolve": {"scale": {"color": "independent"}, "legend": {"color": "independent"}},
"vconcat": [
{
 "title": {"text": "hERG"},
 "spacing": 4,
 "resolve": {"scale": {"color": "independent"}, "legend": {"color": "independent"}},
 "hconcat": [
  {"width": 258, "height": 269, "data": {"name": "l_hERG"},
   "encoding": {
    "x": {"field": "k", "type": "quantitative", "scale": {"type": "log", "domain": [0.733, 698], "nice": false}, "axis": {"title": "k", "values": [0.8,0.9,1,2,3,4,5,6,7,8,9,10,20,30,40,50,60,70,80,90,100,200,300,400,500,600], "labelExpr": "datum.value == 1 ? '10⁰' : datum.value == 10 ? '10¹' : datum.value == 100 ? '10²' : ''", "labelOverlap": false, "labelFlush": false, "tickSize": {"condition": {"test": "datum.value == 1 || datum.value == 10 || datum.value == 100", "value": 7}, "value": 4}}},
    "y": {"field": "v", "type": "quantitative", "scale": {"domain": [1.34, 11.46], "nice": false, "zero": false}, "axis": {"title": "log(λₖ)", "values": [2,4,6,8,10]}},
    "color": {"field": "q", "type": "nominal", "scale": {"domain": ["1.58b 90%","1.58b 50%","1.58b 33%","BitNet1 58b","BitNet","Sign","2 bits","3 bits","4 bits","5 bits"]}, "legend": null}
   },
   "layer": [
    {"mark": {"type": "errorband", "band": {"opacity": 0.15}}, "encoding": {"yError": {"field": "e"}}},
    {"mark": {"type": "line", "strokeWidth": 1.7, "clip": true}}
   ]},
  {"width": 258, "height": 269, "data": {"name": "h_hERG"},
   "transform": [{"lookup": "q", "from": {"data": {"name": "qorder"}, "key": "q", "fields": ["o"]}}],
   "mark": {"type": "bar", "fillOpacity": 0.5, "stroke": "black", "strokeWidth": 1.1, "binSpacing": 0},
   "encoding": {
    "x": {"field": "b0", "type": "quantitative", "bin": "binned", "scale": {"domain": [-4.6, 118.6], "nice": false, "zero": false}, "axis": {"title": "argmax(λₖ)", "values": [0,50,100], "format": "d"}},
    "x2": {"field": "b1"},
    "y": {"field": "p", "type": "quantitative", "stack": "zero", "scale": {"domain": [0, 70.5], "nice": false}, "axis": {"title": "%", "values": [0,20,40,60]}},
    "color": {"field": "q", "type": "nominal", "scale": {"domain": ["1.58b 90%","1.58b 50%","1.58b 33%","BitNet1 58b","BitNet","Sign","2 bits","3 bits","4 bits","5 bits"]}, "legend": {"title": "Quantizer", "orient": "none", "legendX": 264, "legendY": 8, "encode": {"symbols": {"update": {"fillOpacity": {"value": 0.5}, "stroke": {"value": "black"}, "strokeWidth": {"value": 1.5}}}}}},
    "order": {"field": "o", "sort": "descending"}
   }}
 ]
},
{
 "title": {"text": "AMES"},
 "spacing": 4,
 "resolve": {"scale": {"color": "independent"}, "legend": {"color": "independent"}},
 "hconcat": [
  {"width": 258, "height": 269, "data": {"name": "l_AMES"},
   "encoding": {
    "x": {"field": "k", "type": "quantitative", "scale": {"type": "log", "domain": [0.733, 698], "nice": false}, "axis": {"title": "k", "values": [0.8,0.9,1,2,3,4,5,6,7,8,9,10,20,30,40,50,60,70,80,90,100,200,300,400,500,600], "labelExpr": "datum.value == 1 ? '10⁰' : datum.value == 10 ? '10¹' : datum.value == 100 ? '10²' : ''", "labelOverlap": false, "labelFlush": false, "tickSize": {"condition": {"test": "datum.value == 1 || datum.value == 10 || datum.value == 100", "value": 7}, "value": 4}}},
    "y": {"field": "v", "type": "quantitative", "scale": {"domain": [1.71, 12.33], "nice": false, "zero": false}, "axis": {"title": "log(λₖ)", "values": [2,4,6,8,10,12]}},
    "color": {"field": "q", "type": "nominal", "scale": {"domain": ["1.58b 90%","1.58b 50%","1.58b 33%","BitNet1 58b","BitNet","Sign","2 bits","3 bits","4 bits","5 bits"]}, "legend": null}
   },
   "layer": [
    {"mark": {"type": "errorband", "band": {"opacity": 0.15}}, "encoding": {"yError": {"field": "e"}}},
    {"mark": {"type": "line", "strokeWidth": 1.7, "clip": true}}
   ]},
  {"width": 258, "height": 269, "data": {"name": "h_AMES"},
   "transform": [{"lookup": "q", "from": {"data": {"name": "qorder"}, "key": "q", "fields": ["o"]}}],
   "mark": {"type": "bar", "fillOpacity": 0.5, "stroke": "black", "strokeWidth": 1.1, "binSpacing": 0},
   "encoding": {
    "x": {"field": "b0", "type": "quantitative", "bin": "binned", "scale": {"domain": [-13.15, 276.15], "nice": false, "zero": false}, "axis": {"title": "argmax(λₖ)", "values": [0,100,200], "format": "d"}},
    "x2": {"field": "b1"},
    "y": {"field": "p", "type": "quantitative", "stack": "zero", "scale": {"domain": [0, 83.3], "nice": false}, "axis": {"title": "%", "values": [0,20,40,60,80]}},
    "color": {"field": "q", "type": "nominal", "scale": {"domain": ["1.58b 90%","1.58b 50%","1.58b 33%","BitNet1 58b","BitNet","Sign","2 bits","3 bits","4 bits","5 bits"]}, "legend": {"title": "Quantizer", "orient": "none", "legendX": 264, "legendY": 8, "encode": {"symbols": {"update": {"fillOpacity": {"value": 0.5}, "stroke": {"value": "black"}, "strokeWidth": {"value": 1.5}}}}}},
    "order": {"field": "o", "sort": "descending"}
   }}
 ]
},
{
 "title": {"text": "Carcinogens_Lagunin"},
 "spacing": 4,
 "resolve": {"scale": {"color": "independent"}, "legend": {"color": "independent"}},
 "hconcat": [
  {"width": 258, "height": 269, "data": {"name": "l_Carc"},
   "encoding": {
    "x": {"field": "k", "type": "quantitative", "scale": {"type": "log", "domain": [0.733, 698], "nice": false}, "axis": {"title": "k", "values": [0.8,0.9,1,2,3,4,5,6,7,8,9,10,20,30,40,50,60,70,80,90,100,200,300,400,500,600], "labelExpr": "datum.value == 1 ? '10⁰' : datum.value == 10 ? '10¹' : datum.value == 100 ? '10²' : ''", "labelOverlap": false, "labelFlush": false, "tickSize": {"condition": {"test": "datum.value == 1 || datum.value == 10 || datum.value == 100", "value": 7}, "value": 4}}},
    "y": {"field": "v", "type": "quantitative", "scale": {"domain": [1.43, 10.65], "nice": false, "zero": false}, "axis": {"title": "log(λₖ)", "values": [2,4,6,8,10]}},
    "color": {"field": "q", "type": "nominal", "scale": {"domain": ["1.58b 90%","1.58b 50%","1.58b 33%","BitNet1 58b","BitNet","Sign","2 bits","3 bits","4 bits","5 bits"]}, "legend": null}
   },
   "layer": [
    {"mark": {"type": "errorband", "band": {"opacity": 0.15}}, "encoding": {"yError": {"field": "e"}}},
    {"mark": {"type": "line", "strokeWidth": 1.7, "clip": true}}
   ]},
  {"width": 258, "height": 269, "data": {"name": "h_Carc"},
   "transform": [{"lookup": "q", "from": {"data": {"name": "qorder"}, "key": "q", "fields": ["o"]}}],
   "mark": {"type": "bar", "fillOpacity": 0.5, "stroke": "black", "strokeWidth": 1.1, "binSpacing": 0},
   "encoding": {
    "x": {"field": "b0", "type": "quantitative", "bin": "binned", "scale": {"domain": [-3.65, 96.7], "nice": false, "zero": false}, "axis": {"title": "argmax(λₖ)", "values": [0,50], "format": "d"}},
    "x2": {"field": "b1"},
    "y": {"field": "p", "type": "quantitative", "stack": "zero", "scale": {"domain": [0, 66.2], "nice": false}, "axis": {"title": "%", "values": [0,20,40,60]}},
    "color": {"field": "q", "type": "nominal", "scale": {"domain": ["1.58b 90%","1.58b 50%","1.58b 33%","BitNet1 58b","BitNet","Sign","2 bits","3 bits","4 bits","5 bits"]}, "legend": {"title": "Quantizer", "orient": "none", "legendX": 264, "legendY": 8, "encode": {"symbols": {"update": {"fillOpacity": {"value": 0.5}, "stroke": {"value": "black"}, "strokeWidth": {"value": 1.5}}}}}},
    "order": {"field": "o", "sort": "descending"}
   }}
 ]
},
{
 "title": {"text": "Skin__Reaction"},
 "spacing": 4,
 "resolve": {"scale": {"color": "independent"}, "legend": {"color": "independent"}},
 "hconcat": [
  {"width": 258, "height": 269, "data": {"name": "l_Skin"},
   "encoding": {
    "x": {"field": "k", "type": "quantitative", "scale": {"type": "log", "domain": [0.733, 698], "nice": false}, "axis": {"title": "k", "values": [0.8,0.9,1,2,3,4,5,6,7,8,9,10,20,30,40,50,60,70,80,90,100,200,300,400,500,600], "labelExpr": "datum.value == 1 ? '10⁰' : datum.value == 10 ? '10¹' : datum.value == 100 ? '10²' : ''", "labelOverlap": false, "labelFlush": false, "tickSize": {"condition": {"test": "datum.value == 1 || datum.value == 10 || datum.value == 100", "value": 7}, "value": 4}}},
    "y": {"field": "v", "type": "quantitative", "scale": {"domain": [1.03, 10.85], "nice": false, "zero": false}, "axis": {"title": "log(λₖ)", "values": [2,4,6,8,10]}},
    "color": {"field": "q", "type": "nominal", "scale": {"domain": ["1.58b 90%","1.58b 50%","1.58b 33%","BitNet1 58b","BitNet","Sign","2 bits","3 bits","4 bits","5 bits"]}, "legend": null}
   },
   "layer": [
    {"mark": {"type": "errorband", "band": {"opacity": 0.15}}, "encoding": {"yError": {"field": "e"}}},
    {"mark": {"type": "line", "strokeWidth": 1.7, "clip": true}}
   ]},
  {"width": 258, "height": 269, "data": {"name": "h_Skin"},
   "transform": [{"lookup": "q", "from": {"data": {"name": "qorder"}, "key": "q", "fields": ["o"]}}],
   "mark": {"type": "bar", "fillOpacity": 0.5, "stroke": "black", "strokeWidth": 1.1, "binSpacing": 0},
   "encoding": {
    "x": {"field": "b0", "type": "quantitative", "bin": "binned", "scale": {"domain": [-0.5, 32.5], "nice": false, "zero": false}, "axis": {"title": "argmax(λₖ)", "values": [0,10,20,30], "format": "d"}},
    "x2": {"field": "b1"},
    "y": {"field": "p", "type": "quantitative", "stack": "zero", "scale": {"domain": [0, 27.45], "nice": false}, "axis": {"title": "%", "values": [0,5,10,15,20,25]}},
    "color": {"field": "q", "type": "nominal", "scale": {"domain": ["1.58b 90%","1.58b 50%","1.58b 33%","BitNet1 58b","BitNet","Sign","2 bits","3 bits","4 bits","5 bits"]}, "legend": {"title": "Quantizer", "orient": "none", "legendX": 264, "legendY": 8, "encode": {"symbols": {"update": {"fillOpacity": {"value": 0.5}, "stroke": {"value": "black"}, "strokeWidth": {"value": 1.5}}}}}},
    "order": {"field": "o", "sort": "descending"}
   }}
 ]
}
]
}
